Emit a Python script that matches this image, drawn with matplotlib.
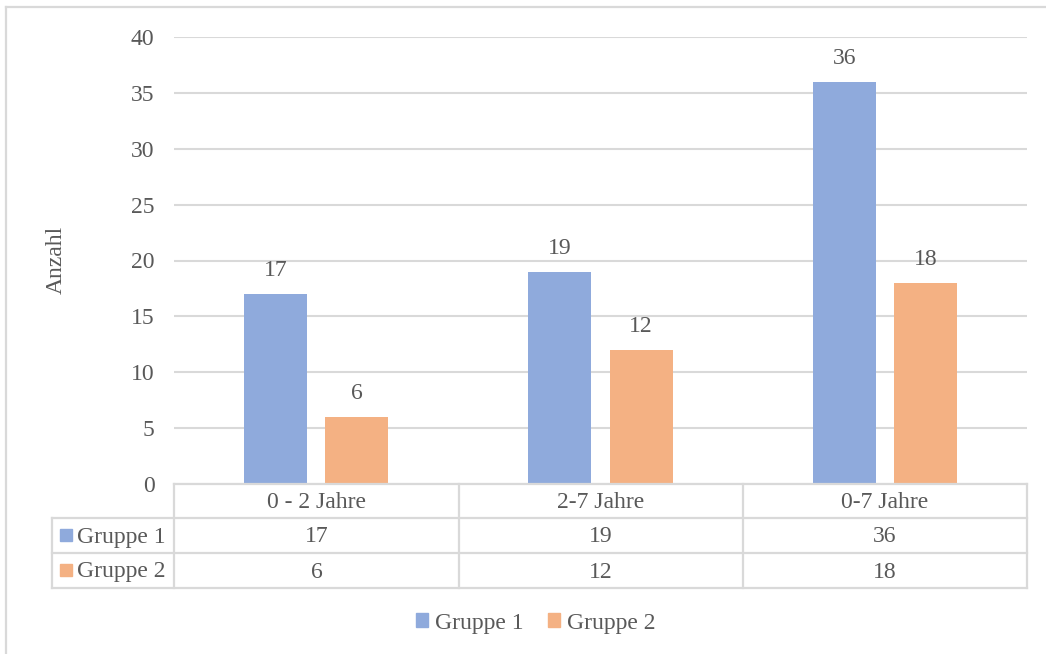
import matplotlib
matplotlib.use('Agg')
import matplotlib.pyplot as plt
from matplotlib.lines import Line2D
from matplotlib.patches import Rectangle

categories = ['0 - 2 Jahre', '2-7 Jahre', '0-7 Jahre']
series_names = ['Gruppe 1', 'Gruppe 2']
gruppe1 = [17, 19, 36]
gruppe2 = [6, 12, 18]
yticks = [0, 5, 10, 15, 20, 25, 30, 35, 40]

blue = '#8FAADC'
orange = '#F4B183'
textc = '#595959'
gridc = '#D9D9D9'
fs = 17

plt.rcParams['font.family'] = ['Liberation Serif', 'DejaVu Serif']
plt.rcParams['font.size'] = fs

W, H = 1046, 654
fig = plt.figure(figsize=(W / 100, H / 100), dpi=100)


def fx(px):
    return px / W


def fy(py):
    return 1 - py / H


ax = fig.add_axes([fx(174), fy(484), fx(1027) - fx(174), fy(37) - fy(484)])

x = list(range(len(categories)))
width = 0.222
off = 0.143
bars1 = ax.bar([i - off for i in x], gruppe1, width, color=blue, zorder=3)
bars2 = ax.bar([i + off for i in x], gruppe2, width, color=orange, zorder=3)

for bars, vals in [(bars1, gruppe1), (bars2, gruppe2)]:
    for b, v in zip(bars, vals):
        ax.annotate(str(v), (b.get_x() + b.get_width() / 2, v),
                    xytext=(0, 17), textcoords='offset points',
                    ha='center', va='center', color=textc, fontsize=fs)

ax.set_xlim(-0.5, 2.5)
ax.set_ylim(0, 40)
ax.set_yticks(yticks)
ax.set_xticks([])
ax.yaxis.grid(True, color=gridc, linewidth=1.5, zorder=0)
ax.tick_params(axis='y', length=0, pad=14, colors=textc, labelsize=fs)
for s in ax.spines.values():
    s.set_visible(False)

fig.text(fx(56), fy(260), 'Anzahl', rotation=90, ha='center', va='center',
         color=textc, fontsize=fs)

# data table under the plot
col_x = [174, 459, 743, 1027]
row_y = [484, 518, 553, 588]
label_left = 52
lkw = dict(color=gridc, linewidth=1.6, transform=fig.transFigure)
fig.add_artist(Line2D([fx(174), fx(1027)], [fy(484), fy(484)], **lkw))
for ry in row_y[1:]:
    fig.add_artist(Line2D([fx(label_left), fx(1027)], [fy(ry), fy(ry)], **lkw))
fig.add_artist(Line2D([fx(label_left), fx(label_left)], [fy(518), fy(588)], **lkw))
for cx in col_x:
    fig.add_artist(Line2D([fx(cx), fx(cx)], [fy(484), fy(588)], **lkw))

for i, cat in enumerate(categories):
    cxm = (col_x[i] + col_x[i + 1]) / 2
    fig.text(fx(cxm), fy(503), cat, ha='center', va='center', color=textc, fontsize=fs)
    fig.text(fx(cxm), fy(537), str(gruppe1[i]), ha='center', va='center', color=textc, fontsize=fs)
    fig.text(fx(cxm), fy(572), str(gruppe2[i]), ha='center', va='center', color=textc, fontsize=fs)

for name, col, ry in [(series_names[0], blue, 535), (series_names[1], orange, 570)]:
    fig.add_artist(Rectangle((fx(60), fy(ry + 6)), fx(12), fy(ry - 6) - fy(ry + 6),
                             color=col, transform=fig.transFigure))
    fig.text(fx(77), fy(ry + 2), name, ha='left', va='center', color=textc, fontsize=fs)

# legend at the bottom
handles = [Rectangle((0, 0), 1, 1, color=blue), Rectangle((0, 0), 1, 1, color=orange)]
fig.legend(handles, series_names, loc='center', bbox_to_anchor=(fx(536), fy(623)),
           ncol=2, frameon=False, handlelength=0.5, handleheight=0.5,
           handletextpad=0.3, columnspacing=1.05, labelcolor=textc, fontsize=fs)

# outer chart border
fig.add_artist(Line2D([fx(6), 1], [fy(7), fy(7)], **lkw))
fig.add_artist(Line2D([fx(6), fx(6)], [fy(7), 0], **lkw))

fig.savefig('out.png', dpi=100)
